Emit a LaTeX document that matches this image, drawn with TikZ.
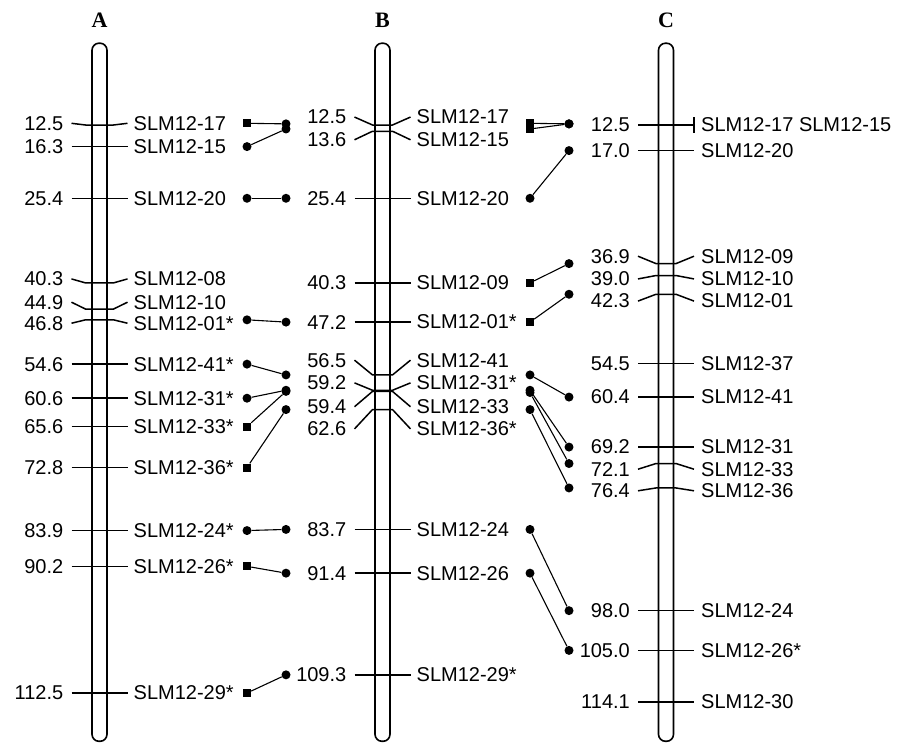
\documentclass[tikz,border=0pt]{standalone}
\usepackage{fontspec}
\setmainfont{Liberation Sans}
\newfontfamily\titlefont{Liberation Serif}
\usetikzlibrary{positioning}

\begin{document}
\begin{tikzpicture}[
    x=1pt, y=-5.68pt,
    chrom/.style={line width=1.6pt, rounded corners=7pt},
    marktick/.style={line width=1.5pt},
    link/.style={line width=1.1pt},
    num/.style={anchor=east, inner sep=0pt, font=\fontsize{20}{24}\selectfont},
    mname/.style={anchor=west, inner sep=0pt, font=\fontsize{20}{24}\selectfont},
    chromtitle/.style={font=\fontsize{22}{24}\selectfont\titlefont\bfseries},
    mdot/.style={circle, fill, inner sep=0pt, minimum size=9pt},
    msq/.style={rectangle, fill, inner sep=0pt, minimum size=8pt}
]
\useasboundingbox (0,-9.507) rectangle (907,121.48);

% Chromosome A
\begin{scope}[xshift=99.5pt]
\node[chromtitle] (titleA) at (0,-6) {A};
\draw[chrom] (-7.5,-1.9) rectangle (7.5,121);
\foreach \pos/\lab/\val/\mk [count=\i] in {
    12.5/12.2/12.5/SLM12-17, 16.3/16.3/16.3/SLM12-15, 25.4/25.4/25.4/SLM12-20,
    40.3/39.6/40.3/SLM12-08, 44.9/43.7/44.9/SLM12-10, 46.8/47.4/46.8/SLM12-01*,
    54.6/54.6/54.6/SLM12-41*, 60.6/60.6/60.6/SLM12-31*, 65.6/65.6/65.6/SLM12-33*,
    72.8/72.8/72.8/SLM12-36*, 83.9/83.9/83.9/SLM12-24*, 90.2/90.2/90.2/SLM12-26*,
    112.5/112.5/112.5/SLM12-29*} {
  \draw[marktick] (-28,\lab) -- (-14,\pos) -- (14,\pos) -- (28,\lab);
  \node[num] (numA\i) at (-36,\lab) {\val};
  \node[mname] (mkA\i) at (34,\lab) {\mk};
}
\end{scope}

% Chromosome B
\begin{scope}[xshift=382.5pt]
\node[chromtitle] (titleB) at (0,-6) {B};
\draw[chrom] (-7.5,-1.9) rectangle (7.5,121);
\foreach \pos/\lab/\val/\mk [count=\i] in {
    12.5/11.1/12.5/SLM12-17, 13.6/15.1/13.6/SLM12-15, 25.4/25.4/25.4/SLM12-20,
    40.3/40.3/40.3/SLM12-09, 47.2/47.2/47.2/SLM12-01*, 56.5/53.9/56.5/SLM12-41,
    59.2/57.9/59.2/SLM12-31*, 59.4/62.1/59.4/SLM12-33, 62.6/66.0/62.6/SLM12-36*,
    83.7/83.7/83.7/SLM12-24, 91.4/91.4/91.4/SLM12-26, 109.3/109.3/109.3/SLM12-29*} {
  \draw[marktick] (-28,\lab) -- (-10,\pos) -- (10,\pos) -- (28,\lab);
  \node[num] (numB\i) at (-36,\lab) {\val};
  \node[mname] (mkB\i) at (34,\lab) {\mk};
}
\end{scope}

% Chromosome C
\begin{scope}[xshift=666pt]
\node[chromtitle] (titleC) at (0,-6) {C};
\draw[chrom] (-7.5,-1.9) rectangle (7.5,121);
\foreach \pos/\lab/\val/\mk [count=\i] in {
    12.5/12.5/12.5/SLM12-17 SLM12-15, 17.0/17.0/17.0/SLM12-20,
    36.9/35.6/36.9/SLM12-09, 39.0/39.6/39.0/SLM12-10, 42.3/43.5/42.3/SLM12-01,
    54.5/54.5/54.5/SLM12-37, 60.4/60.4/60.4/SLM12-41, 69.2/69.2/69.2/SLM12-31,
    72.1/73.1/72.1/SLM12-33, 76.4/76.9/76.4/SLM12-36, 98.0/98.0/98.0/SLM12-24,
    105.0/105.0/105.0/SLM12-26*, 114.1/114.1/114.1/SLM12-30} {
  \draw[marktick] (-28,\lab) -- (-10,\pos) -- (10,\pos) -- (28,\lab);
  \node[num] (numC\i) at (-36,\lab) {\val};
  \node[mname] (mkC\i) at (35,\lab) {\mk};
}
\draw[marktick] (28,11.1) -- (28,13.9);
\end{scope}

% Links A to B
\foreach \yl/\yr/\shp [count=\k] in {
    12.2/12.3/msq, 16.3/13.2/mdot, 25.4/25.4/mdot, 46.8/47.2/mdot,
    54.6/56.5/mdot, 60.6/59.2/mdot, 65.6/59.4/msq, 72.8/62.6/msq,
    83.9/83.7/mdot, 90.2/91.4/msq, 112.5/109.3/msq} {
  \node[\shp] (abL\k) at (247,\yl) {};
  \node[mdot] (abR\k) at (286,\yr) {};
  \draw[link] (abL\k) -- (abR\k);
}

% Links B to C
\foreach \yl/\yr/\shp [count=\k] in {
    12.2/12.3/msq, 13.2/12.3/msq, 25.4/17.0/mdot, 40.3/36.9/msq,
    47.2/42.3/msq, 56.5/60.4/mdot, 59.2/69.2/mdot, 59.6/72.1/mdot,
    62.6/76.4/mdot, 83.7/98.0/mdot, 91.4/105.0/mdot} {
  \node[\shp] (bcL\k) at (530,\yl) {};
  \node[mdot] (bcR\k) at (569,\yr) {};
  \draw[link] (bcL\k) -- (bcR\k);
}

\end{tikzpicture}
\end{document}
